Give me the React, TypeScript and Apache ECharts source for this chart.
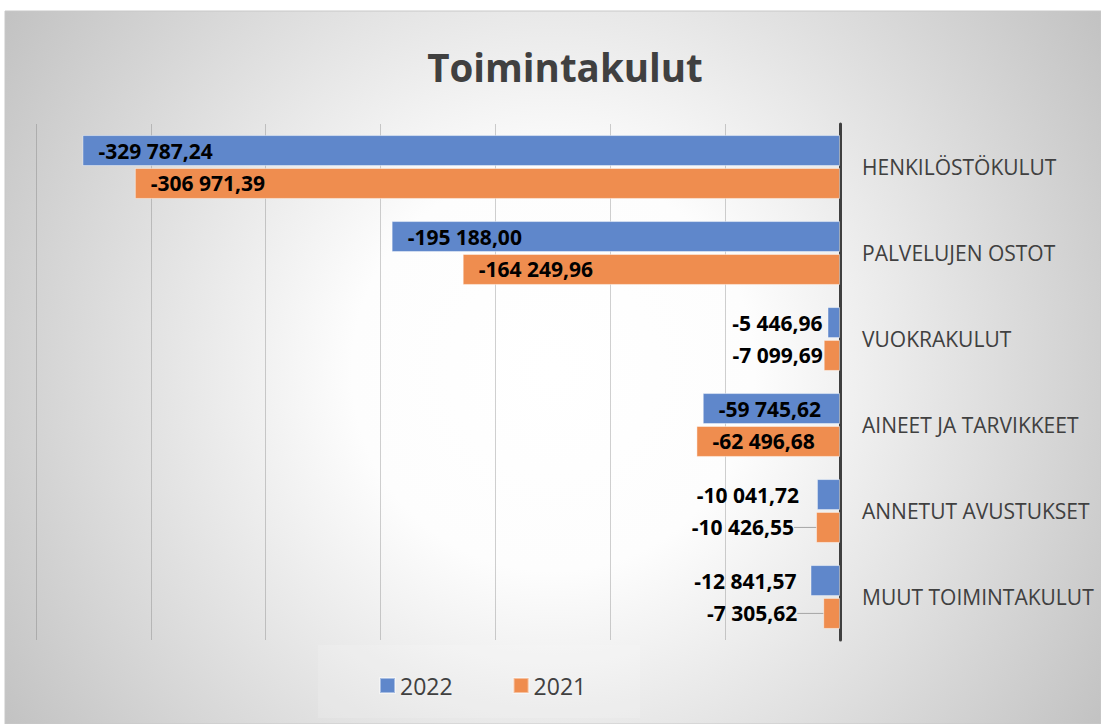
import React, { useEffect, useRef } from "react";
import * as echarts from "echarts";

const categories = [
  "HENKILÖSTÖKULUT",
  "PALVELUJEN OSTOT",
  "VUOKRAKULUT",
  "AINEET JA TARVIKKEET",
  "ANNETUT AVUSTUKSET",
  "MUUT TOIMINTAKULUT",
];
const seriesNames = ["2022", "2021"];
const values2022 = [-329787.24, -195188.0, -5446.96, -59745.62, -10041.72, -12841.57];
const values2021 = [-306971.39, -164249.96, -7099.69, -62496.68, -10426.55, -7305.62];
const axisMin = -350000;
const axisMax = 0;
const axisStep = 50000;

// label styling (gap between label and short bar, leader-line shifts)
const outsideGap2022 = [0, 0, 5, 0, 18, 14];
const outsideGap2021 = [0, 0, 1, 0, 2, 2];
const leaderShift2021 = [0, 0, 0, 0, 20, 24];

const fmt = (v: number) => {
  const s = Math.abs(v).toFixed(2);
  const [i, d] = s.split(".");
  const ii = i.replace(/\B(?=(\d{3})+(?!\d))/g, " ");
  return (v < 0 ? "-" : "") + ii + "," + d;
};

const FONT = "'Open Sans', 'Noto Sans', sans-serif";

function buildData(values: number[], gaps: number[], shifts?: number[]) {
  return values.map((v, i) => {
    const inside = Math.abs(v) > 40000;
    const item: any = {
      value: v,
      label: inside
        ? { position: "insideLeft", distance: 16 }
        : { position: "left", distance: gaps[i] },
    };
    if (shifts && shifts[i]) {
      item.labelLine = { show: true, lineStyle: { color: "#a6a6a6", width: 1 } };
    }
    return item;
  });
}

export default function App() {
  const ref = useRef<HTMLDivElement>(null);
  useEffect(() => {
    if (!ref.current) return;
    const chart = echarts.init(ref.current, null, { renderer: "svg" });
    const barLabel = {
      show: true,
      formatter: (p: any) => fmt(p.value),
      fontFamily: FONT,
      fontWeight: "bold",
      fontSize: 21,
      color: "#000000",
    };
    chart.setOption({
      animation: false,
      backgroundColor: "#ffffff",
      graphic: [
        {
          type: "rect",
          z: -10,
          silent: true,
          shape: { x: 5, y: 11, width: 1096, height: 713 },
          style: {
            fill: new echarts.graphic.RadialGradient(
              553,
              370,
              670,
              [
                { offset: 0, color: "#ffffff" },
                { offset: 0.3, color: "#fdfdfd" },
                { offset: 1, color: "#c0c0c0" },
              ],
              true
            ),
            stroke: "#c8c8c8",
            lineWidth: 1,
          },
        },
        {
          type: "rect",
          z: -9,
          silent: true,
          shape: { x: 318, y: 645, width: 322, height: 73 },
          style: { fill: "rgba(255,255,255,0.14)" },
        },
      ],
      title: {
        text: "Toimintakulut",
        left: 560,
        top: 42,
        textAlign: "center",
        textStyle: {
          fontFamily: FONT,
          fontWeight: "bold",
          fontSize: 38.5,
          color: "#404040",
        },
      },
      legend: {
        data: seriesNames,
        left: 374,
        top: 669,
        itemWidth: 15,
        itemHeight: 15,
        itemGap: 60,
        icon: "rect",
        textStyle: { fontFamily: FONT, fontSize: 23, color: "#404040" },
      },
      grid: { left: 36, right: 261, top: 124, bottom: 84, containLabel: false },
      xAxis: {
        type: "value",
        min: axisMin,
        max: axisMax,
        interval: axisStep,
        axisLabel: { show: false },
        axisTick: { show: false },
        axisLine: { show: false },
        splitLine: { show: true, lineStyle: { color: "rgba(100,100,100,0.3)", width: 1 } },
      },
      yAxis: {
        type: "category",
        data: categories,
        position: "right",
        inverse: true,
        axisTick: { show: false },
        axisLine: { show: true, lineStyle: { color: "#404040", width: 3 } },
        axisLabel: {
          margin: 22,
          fontFamily: FONT,
          fontSize: 21,
          color: "#404040",
        },
        splitLine: { show: false },
      },
      series: [
        {
          name: seriesNames[0],
          type: "bar",
          barWidth: 31,
          barGap: "6%",
          data: buildData(values2022, outsideGap2022),
          itemStyle: { color: "#5f87cb", borderColor: "rgba(255,255,255,0.45)", borderWidth: 1 },
          label: barLabel,
        },
        {
          name: seriesNames[1],
          type: "bar",
          barWidth: 31,
          barGap: "6%",
          data: buildData(values2021, outsideGap2021, leaderShift2021),
          itemStyle: { color: "#ef8d4f", borderColor: "rgba(255,255,255,0.45)", borderWidth: 1 },
          label: barLabel,
          labelLayout: (params: any) => {
            const s = leaderShift2021[params.dataIndex];
            return s ? { dx: -s } : {};
          },
        },
      ],
    });
    return () => chart.dispose();
  }, []);
  return (
    <div
      ref={ref}
      style={{ position: "fixed", left: 0, top: 0, width: 1101, height: 724 }}
    />
  );
}
